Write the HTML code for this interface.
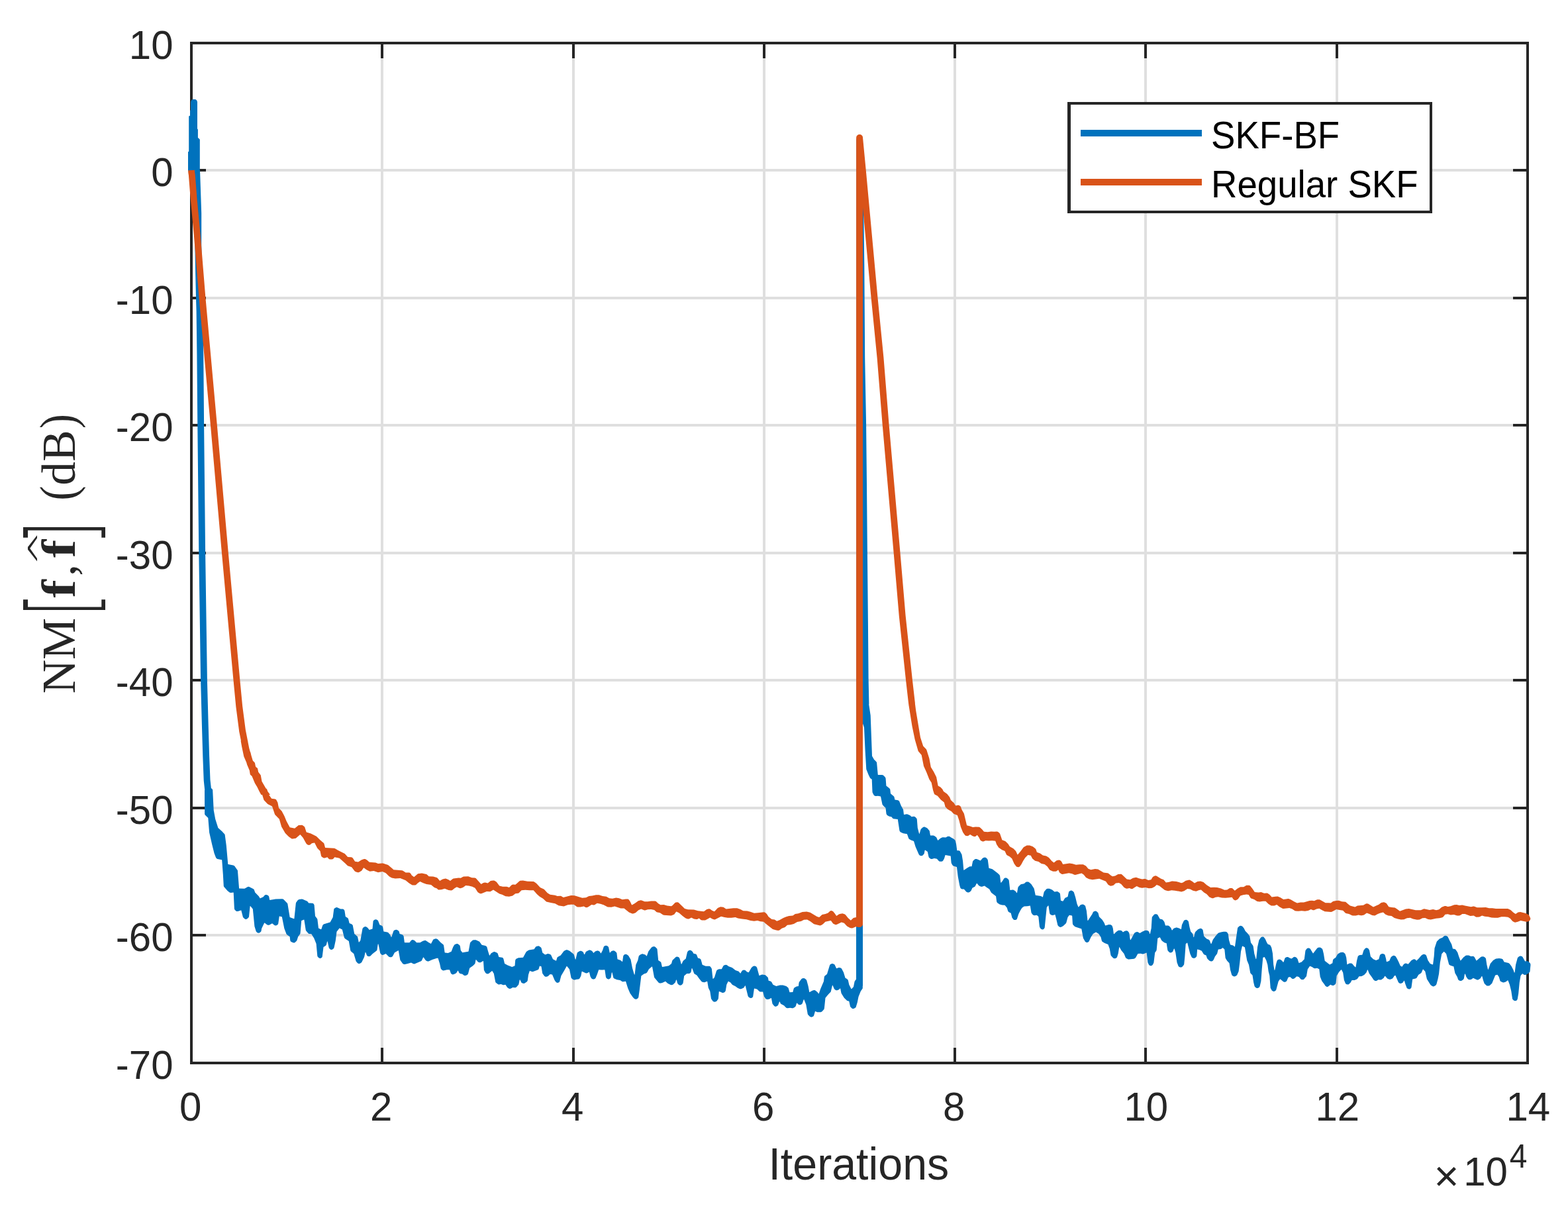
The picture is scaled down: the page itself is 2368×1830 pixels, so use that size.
<!DOCTYPE html>
<html lang="en"><head><meta charset="utf-8"><title>NM convergence: SKF-BF vs Regular SKF</title>
<style>
html,body{margin:0;padding:0;background:#fff;}
body{width:2368px;height:1830px;overflow:hidden;}
svg{display:block;}
text{font-family:"Liberation Sans",sans-serif;fill:#262626;}
.t{font-size:60px;}
.leg{font-size:54.4px;fill:#000;}
.xl{font-size:66px;}
.yl text{font-family:"Liberation Serif",serif;font-size:71px;}
.yl .bf{font-weight:bold;}
.yl .brk{font-family:"DejaVu Sans Light","DejaVu Sans",sans-serif;font-weight:200;font-size:139px;}
.yl .hat{font-family:"DejaVu Sans Light","DejaVu Sans",sans-serif;font-weight:200;font-size:51px;}
.yl .par{font-size:77px;}
</style></head><body>
<svg width="2368" height="1830" viewBox="0 0 2368 1830">
<rect width="2368" height="1830" fill="#fff"/>
<path d="M577.0 65.0V1605.0M866.0 65.0V1605.0M1154.0 65.0V1605.0M1442.0 65.0V1605.0M1730.0 65.0V1605.0M2019.0 65.0V1605.0M289.0 257.0H2307.0M289.0 450.0H2307.0M289.0 642.0H2307.0M289.0 835.0H2307.0M289.0 1027.0H2307.0M289.0 1220.0H2307.0M289.0 1412.0H2307.0" stroke="#dfdfdf" stroke-width="4.0" fill="none"/>
<path d="M577.0 65.0v23.0M577.0 1605.0v-23.0M866.0 65.0v23.0M866.0 1605.0v-23.0M1154.0 65.0v23.0M1154.0 1605.0v-23.0M1442.0 65.0v23.0M1442.0 1605.0v-23.0M1730.0 65.0v23.0M1730.0 1605.0v-23.0M2019.0 65.0v23.0M2019.0 1605.0v-23.0M289.0 257.0h22.0M2307.0 257.0h-22.0M289.0 450.0h22.0M2307.0 450.0h-22.0M289.0 642.0h22.0M2307.0 642.0h-22.0M289.0 835.0h22.0M2307.0 835.0h-22.0M289.0 1027.0h22.0M2307.0 1027.0h-22.0M289.0 1220.0h22.0M2307.0 1220.0h-22.0M289.0 1412.0h22.0M2307.0 1412.0h-22.0" stroke="#262626" stroke-width="4.0" fill="none"/>
<rect x="289.0" y="65.0" width="2018.0" height="1540.0" fill="none" stroke="#262626" stroke-width="4.0"/>
<g id="curves">
<path d="M284.0 257.0L284.0 257.0L284.0 257.0L293.0 290.0L293.0 290.0L293.0 290.0L293.3 290.0L294.3 322.1L294.3 367.0L294.3 367.1L295.3 419.1L295.3 419.1L296.0 450.1L296.0 450.1L296.6 470.1L297.4 534.1L298.3 642.0L298.3 642.1L300.3 835.1L300.3 835.1L303.1 1027.1L303.1 1027.1L304.9 1095.1L304.9 1095.1L306.3 1142.1L306.3 1142.2L307.7 1178.2L307.7 1178.5L309.2 1192.7L309.0 1193.2L309.1 1229.2L309.9 1230.8L314.3 1235.1L316.1 1256.9L320.2 1275.0L323.6 1288.6L326.1 1294.9L327.1 1296.3L328.4 1297.0L334.8 1298.3L335.2 1298.6L336.8 1320.0L337.8 1338.1L338.5 1339.3L343.3 1344.8L346.7 1347.5L348.6 1348.1L352.3 1347.6L352.7 1347.8L353.9 1371.9L354.4 1373.5L356.4 1375.5L357.3 1375.9L358.3 1376.1L359.3 1376.0L363.8 1374.4L364.3 1374.4L367.0 1384.9L369.6 1387.5L370.9 1387.9L371.9 1387.9L373.2 1387.3L374.9 1385.9L376.0 1384.2L377.6 1368.5L377.8 1368.1L378.3 1368.2L381.8 1372.6L384.4 1398.7L386.8 1406.5L388.5 1408.2L390.1 1408.8L392.0 1408.4L394.0 1406.7L394.5 1405.7L395.2 1401.7L399.2 1393.6L399.7 1393.6L403.3 1396.2L404.5 1396.7L406.5 1396.7L411.0 1394.3L414.9 1397.3L416.2 1397.6L417.5 1397.3L419.3 1396.3L420.2 1394.8L421.8 1383.6L422.2 1383.4L425.8 1384.2L429.3 1401.7L432.4 1410.1L433.3 1411.2L437.6 1414.2L438.3 1420.0L439.0 1421.5L440.1 1422.3L443.2 1423.5L444.5 1423.4L445.5 1422.9L448.1 1420.4L448.7 1419.1L450.2 1414.2L453.2 1410.3L453.6 1408.9L455.2 1390.2L455.5 1389.9L459.2 1388.5L459.4 1388.9L461.7 1404.0L462.1 1405.2L465.7 1409.4L467.0 1409.9L470.3 1410.2L474.3 1416.7L477.6 1424.9L479.3 1443.2L479.6 1444.2L480.2 1445.1L481.5 1446.3L482.5 1446.7L483.8 1446.9L485.1 1446.5L486.2 1445.6L486.7 1444.7L488.5 1430.1L491.7 1428.1L492.4 1427.3L492.9 1426.4L494.1 1421.5L494.4 1421.5L494.7 1421.8L496.7 1431.1L497.9 1432.8L499.2 1433.7L500.9 1433.9L502.5 1433.3L504.0 1431.9L504.6 1430.5L506.8 1420.2L508.5 1406.7L512.4 1401.7L512.8 1401.4L516.8 1403.4L519.8 1415.3L520.4 1416.5L521.4 1417.4L526.8 1420.9L529.3 1435.2L530.1 1436.4L534.3 1440.0L537.7 1451.5L540.0 1454.2L541.5 1455.0L542.5 1455.1L543.8 1454.8L545.6 1453.6L546.2 1452.9L550.1 1445.1L551.7 1437.8L552.3 1437.9L553.9 1442.2L554.5 1443.1L555.7 1443.9L557.4 1444.1L558.4 1443.9L559.3 1443.4L562.8 1439.9L568.4 1435.7L569.1 1434.9L569.5 1433.9L570.7 1425.7L571.0 1425.3L571.5 1425.7L574.2 1439.0L575.1 1440.6L576.9 1441.7L577.9 1441.9L578.9 1441.8L582.7 1440.1L587.4 1444.7L589.3 1445.3L591.0 1445.3L592.2 1444.6L592.9 1443.9L596.0 1438.3L601.3 1435.3L601.8 1435.3L604.4 1449.8L608.2 1454.9L609.1 1455.5L610.0 1455.9L611.4 1455.9L615.8 1455.0L620.9 1453.4L624.2 1455.2L625.5 1455.4L626.5 1455.2L636.4 1450.9L637.2 1449.8L639.0 1445.8L639.3 1445.4L639.7 1445.6L642.8 1450.0L644.8 1451.2L646.0 1451.6L647.3 1451.4L652.7 1449.1L659.8 1446.7L661.5 1446.7L664.1 1454.9L665.7 1462.4L666.4 1463.6L668.1 1465.0L669.8 1465.5L675.0 1464.2L679.0 1464.2L680.9 1469.6L682.0 1470.7L683.7 1471.4L685.6 1471.1L688.7 1469.4L689.4 1468.7L691.3 1465.7L691.6 1465.5L691.9 1465.7L693.3 1468.8L694.6 1470.0L698.3 1470.8L700.3 1472.5L701.6 1473.1L703.3 1473.0L705.6 1472.0L706.5 1471.1L707.0 1470.2L709.2 1461.7L714.2 1458.3L717.0 1455.5L717.6 1454.3L718.5 1449.2L719.0 1448.9L721.5 1452.1L722.4 1452.7L723.8 1453.2L725.8 1453.2L729.5 1451.1L730.0 1451.3L730.9 1464.8L732.9 1468.6L734.1 1469.8L736.0 1470.4L738.1 1470.0L743.0 1466.1L743.5 1466.2L745.8 1470.0L748.2 1482.4L748.6 1483.4L749.3 1484.1L751.5 1485.8L752.7 1486.4L753.8 1486.4L756.6 1485.9L759.8 1487.2L760.9 1487.3L763.3 1486.8L766.2 1491.0L768.3 1492.5L770.0 1492.9L771.7 1492.5L774.2 1490.9L778.1 1491.2L779.0 1490.9L780.1 1490.2L783.3 1486.4L784.7 1479.7L785.0 1479.3L785.5 1479.5L787.4 1483.5L788.2 1484.2L789.1 1484.6L790.7 1485.0L792.1 1484.8L795.5 1482.5L796.2 1481.8L796.8 1480.5L798.0 1471.7L799.9 1466.1L800.4 1466.0L803.2 1467.1L804.5 1467.2L811.9 1464.6L813.0 1463.9L813.6 1463.0L814.9 1458.7L815.2 1458.5L817.5 1459.3L819.2 1469.8L822.1 1473.7L823.6 1474.7L825.3 1474.8L827.6 1474.0L830.8 1470.9L834.0 1471.6L837.7 1480.3L839.7 1483.0L840.6 1483.6L841.9 1483.9L843.6 1483.6L844.5 1483.0L845.1 1482.2L847.5 1473.3L852.4 1465.1L855.8 1458.7L856.3 1458.9L860.0 1463.4L862.6 1476.4L863.2 1477.2L865.5 1479.0L867.1 1479.6L868.1 1479.5L870.8 1478.7L873.7 1478.4L875.3 1477.4L877.4 1473.5L878.6 1467.1L879.0 1466.8L884.4 1469.3L885.5 1469.5L886.8 1469.3L889.6 1467.8L889.9 1467.8L891.5 1474.3L892.1 1475.6L893.4 1477.5L894.2 1478.1L895.4 1478.6L897.1 1478.5L898.6 1477.7L899.5 1476.7L901.7 1471.5L904.2 1464.3L909.2 1464.6L913.1 1464.2L913.4 1464.6L915.0 1475.5L916.2 1477.3L917.3 1478.1L918.6 1478.5L919.7 1478.4L920.9 1477.8L922.1 1476.8L922.7 1475.6L923.8 1468.6L924.3 1468.3L924.6 1468.7L926.3 1475.9L926.8 1476.9L927.6 1477.6L931.7 1479.2L936.6 1480.0L939.1 1481.8L940.1 1482.2L941.1 1482.3L944.7 1481.7L945.0 1481.8L948.3 1492.3L951.7 1500.0L956.0 1506.0L958.3 1508.2L960.2 1508.8L961.6 1508.6L962.4 1508.0L963.8 1506.8L964.3 1505.6L965.8 1495.0L968.4 1473.4L972.5 1470.4L975.6 1469.4L976.5 1468.9L977.4 1467.9L980.0 1463.3L984.5 1459.6L984.9 1459.6L985.1 1459.9L988.0 1475.5L988.6 1476.6L994.7 1483.7L996.2 1484.5L997.9 1484.6L1000.1 1484.1L1005.0 1481.8L1008.6 1485.1L1012.8 1487.0L1014.0 1487.2L1015.3 1487.1L1016.6 1486.5L1019.2 1483.9L1020.0 1482.9L1021.1 1479.6L1021.4 1479.4L1021.8 1479.6L1023.1 1484.7L1024.9 1486.7L1026.0 1487.5L1027.3 1487.7L1028.7 1487.5L1029.6 1486.9L1031.1 1485.3L1031.6 1484.2L1033.2 1473.4L1037.3 1470.0L1040.9 1469.9L1041.9 1469.6L1042.7 1469.0L1043.6 1467.5L1044.6 1462.3L1045.0 1462.0L1045.4 1462.3L1048.2 1469.7L1048.9 1470.4L1052.3 1472.5L1055.8 1477.6L1059.5 1482.0L1060.7 1482.7L1063.6 1483.2L1064.6 1483.1L1067.7 1481.8L1068.2 1482.0L1069.8 1491.5L1072.3 1496.7L1074.0 1508.1L1076.4 1511.4L1077.8 1512.5L1079.7 1512.7L1081.9 1511.9L1082.8 1511.0L1084.6 1508.6L1084.9 1507.3L1085.8 1496.9L1086.1 1496.9L1088.9 1498.0L1090.6 1498.9L1091.9 1499.1L1093.8 1498.5L1095.3 1496.9L1095.9 1495.6L1097.3 1486.7L1099.6 1482.1L1100.1 1481.8L1103.2 1483.4L1105.4 1486.3L1106.1 1486.9L1110.7 1489.2L1114.0 1491.7L1117.5 1493.2L1119.3 1493.2L1122.6 1491.8L1123.6 1490.9L1125.2 1488.3L1125.7 1488.2L1129.6 1504.1L1130.6 1505.5L1132.6 1506.8L1133.9 1507.0L1135.3 1506.7L1136.4 1505.9L1137.2 1504.7L1138.9 1493.0L1139.2 1492.6L1143.2 1493.4L1146.6 1496.7L1147.4 1497.2L1148.4 1497.5L1152.2 1497.5L1154.0 1504.8L1156.6 1508.2L1158.2 1508.9L1160.8 1508.8L1161.8 1508.5L1164.4 1506.9L1164.9 1507.1L1166.5 1515.6L1169.0 1518.8L1170.5 1519.7L1171.6 1519.8L1172.6 1519.6L1174.6 1518.3L1175.3 1517.2L1177.0 1512.6L1177.4 1512.4L1177.7 1512.6L1178.7 1514.9L1179.3 1515.8L1184.0 1518.3L1187.1 1521.5L1188.0 1522.0L1189.6 1522.2L1193.2 1521.7L1196.3 1522.3L1197.6 1522.2L1200.3 1520.7L1201.3 1519.8L1201.8 1519.0L1203.2 1514.6L1203.6 1514.6L1205.9 1516.8L1207.1 1517.3L1208.8 1517.3L1210.7 1516.3L1211.8 1514.9L1213.7 1509.3L1214.2 1509.1L1217.3 1516.7L1219.8 1531.3L1220.4 1532.2L1223.1 1535.0L1224.3 1535.6L1225.3 1535.8L1227.2 1535.3L1228.3 1534.5L1229.0 1533.7L1231.0 1526.9L1231.4 1526.9L1234.2 1528.3L1239.7 1528.3L1241.5 1527.3L1244.4 1523.9L1244.9 1522.3L1246.5 1506.7L1250.6 1501.7L1254.7 1497.4L1257.0 1487.7L1257.5 1487.8L1259.8 1493.1L1260.6 1493.9L1262.5 1495.2L1264.3 1495.3L1266.3 1494.6L1267.5 1493.8L1268.5 1492.4L1269.1 1492.4L1270.5 1499.4L1271.0 1500.5L1274.9 1506.7L1278.3 1510.1L1279.3 1510.9L1282.3 1511.8L1284.1 1519.9L1286.0 1522.1L1286.8 1522.7L1287.9 1523.0L1289.3 1522.9L1291.1 1522.1L1291.9 1521.5L1292.6 1520.7L1294.8 1513.5L1296.5 1504.9L1299.8 1496.7L1302.7 1492.4L1302.8 1491.4L1302.8 1489.1L1302.9 1489.0L1302.9 1488.5L1303.0 1488.0L1303.0 1092.6L1303.0 1092.6L1305.0 1098.4L1306.7 1135.0L1308.3 1161.5L1311.6 1169.8L1313.8 1174.2L1314.6 1175.3L1316.7 1176.8L1317.5 1195.8L1317.8 1197.1L1319.8 1200.7L1321.2 1201.8L1322.9 1202.1L1325.9 1201.7L1330.0 1202.6L1332.5 1214.6L1333.2 1215.7L1337.5 1220.1L1338.5 1228.4L1339.1 1229.9L1340.0 1230.9L1342.5 1232.4L1346.6 1233.4L1347.8 1235.3L1349.2 1236.3L1355.8 1237.1L1358.4 1254.0L1358.9 1255.3L1360.1 1256.5L1364.0 1258.2L1369.9 1259.2L1372.1 1265.4L1372.8 1266.7L1375.8 1268.6L1380.0 1270.1L1382.6 1278.5L1387.6 1290.0L1388.6 1291.3L1389.8 1291.9L1391.3 1292.2L1392.7 1291.9L1393.8 1291.2L1395.7 1288.9L1396.6 1283.9L1397.1 1283.6L1400.8 1285.9L1402.5 1293.8L1403.0 1294.7L1404.6 1296.2L1405.5 1296.7L1406.5 1297.0L1407.5 1296.9L1410.9 1295.9L1414.9 1296.7L1417.8 1300.0L1419.0 1300.7L1420.0 1300.8L1422.4 1300.7L1423.4 1300.2L1424.2 1299.4L1425.9 1296.5L1427.6 1291.0L1435.7 1292.5L1436.6 1302.5L1437.1 1304.0L1438.6 1306.6L1439.6 1307.5L1444.8 1309.1L1445.0 1309.4L1446.7 1323.4L1449.2 1336.8L1450.2 1340.3L1451.0 1341.4L1451.8 1342.1L1452.8 1342.4L1455.8 1342.6L1459.3 1346.5L1461.4 1347.4L1462.7 1347.5L1464.3 1347.1L1466.5 1345.1L1468.4 1340.8L1471.7 1339.1L1472.5 1338.4L1475.0 1333.7L1475.4 1333.8L1478.3 1337.3L1481.5 1338.8L1483.2 1338.8L1486.8 1337.6L1490.2 1340.1L1494.1 1342.5L1497.0 1347.7L1504.1 1353.3L1505.2 1361.4L1505.6 1362.3L1506.3 1363.2L1509.7 1365.5L1513.2 1366.6L1517.3 1366.7L1517.7 1366.9L1520.8 1370.8L1522.1 1375.2L1522.7 1376.3L1523.6 1377.2L1526.7 1378.7L1528.4 1385.6L1530.4 1388.2L1531.5 1388.9L1532.9 1389.1L1533.9 1389.0L1535.0 1388.4L1535.9 1387.5L1538.3 1380.0L1540.8 1375.1L1543.4 1370.8L1546.7 1368.4L1551.7 1368.3L1555.6 1367.6L1555.9 1368.0L1557.4 1377.4L1557.7 1378.4L1559.5 1380.9L1560.6 1381.8L1562.2 1382.2L1565.8 1381.7L1568.3 1384.1L1569.9 1399.1L1570.2 1400.1L1571.6 1402.2L1572.7 1403.1L1574.3 1403.4L1575.6 1403.2L1577.0 1402.1L1577.7 1400.6L1580.8 1370.1L1582.8 1367.4L1583.2 1367.3L1583.5 1367.7L1585.1 1378.4L1585.5 1379.7L1586.6 1380.9L1588.9 1382.0L1590.2 1382.0L1593.0 1381.0L1593.4 1381.1L1595.0 1386.7L1597.3 1396.7L1598.1 1398.0L1599.9 1399.5L1601.6 1400.0L1603.2 1399.6L1605.8 1398.0L1609.5 1394.6L1610.3 1393.2L1612.5 1385.0L1614.9 1381.8L1618.9 1382.5L1619.2 1382.9L1619.9 1394.5L1620.3 1395.9L1620.9 1396.8L1623.5 1399.2L1633.3 1402.6L1635.9 1416.6L1638.8 1421.7L1639.9 1422.6L1640.8 1423.0L1641.9 1423.1L1642.9 1422.8L1644.1 1422.1L1644.8 1421.0L1647.5 1415.0L1650.8 1410.0L1655.1 1407.6L1659.3 1410.1L1662.5 1415.0L1663.9 1420.6L1664.6 1421.8L1668.3 1424.1L1673.4 1425.9L1675.8 1432.5L1677.5 1442.3L1678.1 1443.2L1681.1 1446.6L1682.7 1447.2L1684.9 1446.9L1686.1 1446.3L1687.0 1445.2L1688.7 1439.8L1690.2 1430.3L1690.6 1430.1L1693.4 1435.0L1697.5 1440.0L1700.0 1446.2L1701.0 1447.1L1703.8 1448.4L1704.9 1448.5L1712.4 1447.7L1713.9 1447.1L1715.1 1446.0L1718.4 1440.0L1722.5 1439.7L1725.7 1440.5L1726.6 1440.6L1731.5 1438.6L1731.7 1439.0L1733.4 1453.3L1735.2 1456.9L1736.2 1457.8L1737.5 1458.2L1738.8 1458.2L1740.3 1457.3L1741.0 1456.6L1742.4 1453.5L1744.2 1438.4L1746.3 1435.5L1746.7 1434.3L1748.3 1416.8L1751.4 1415.2L1751.8 1415.3L1754.0 1419.6L1754.8 1420.5L1758.4 1423.3L1761.7 1424.3L1763.3 1434.4L1763.7 1435.4L1765.5 1437.6L1766.7 1438.3L1767.7 1438.5L1768.8 1438.3L1770.1 1437.7L1771.3 1436.5L1772.9 1432.6L1773.3 1432.4L1773.6 1432.6L1775.3 1438.3L1777.5 1453.3L1779.6 1458.8L1780.9 1460.0L1782.4 1460.5L1784.0 1460.4L1785.2 1459.9L1787.6 1457.3L1788.2 1456.1L1789.3 1444.9L1790.7 1425.2L1792.8 1423.6L1793.1 1423.6L1793.3 1424.0L1797.3 1440.0L1799.4 1444.8L1800.3 1445.9L1802.2 1446.8L1803.9 1446.8L1805.4 1446.1L1806.9 1444.5L1807.4 1442.9L1808.1 1433.8L1808.3 1433.5L1808.7 1433.5L1811.5 1434.2L1814.8 1435.8L1817.7 1440.6L1818.4 1441.2L1821.5 1442.6L1822.9 1446.7L1823.5 1447.8L1826.3 1450.6L1828.6 1451.6L1829.6 1451.6L1830.6 1451.3L1831.5 1450.8L1832.2 1449.9L1833.2 1448.3L1834.9 1444.2L1838.1 1440.0L1839.8 1433.5L1843.9 1433.1L1846.6 1431.0L1849.3 1433.4L1850.6 1445.9L1850.9 1447.0L1853.2 1450.8L1856.5 1454.2L1858.1 1464.8L1860.1 1471.7L1860.7 1472.7L1862.0 1473.8L1863.9 1474.5L1865.8 1474.1L1868.1 1472.4L1870.6 1466.8L1872.3 1453.4L1874.0 1436.8L1875.9 1428.9L1876.1 1428.6L1876.4 1428.5L1879.9 1430.2L1883.2 1450.0L1886.0 1456.7L1888.2 1468.8L1888.7 1469.7L1891.5 1472.6L1893.2 1483.5L1894.5 1488.8L1895.1 1490.0L1897.2 1491.7L1898.9 1492.0L1900.0 1491.8L1901.5 1491.0L1902.6 1489.3L1904.4 1481.4L1905.7 1463.4L1907.3 1446.1L1907.5 1445.8L1909.7 1445.1L1912.3 1450.0L1914.3 1456.7L1915.6 1466.5L1917.3 1473.3L1918.7 1491.7L1920.7 1495.6L1922.1 1496.5L1923.4 1496.9L1924.5 1496.8L1925.4 1496.4L1926.6 1495.6L1927.2 1494.7L1930.7 1481.7L1933.1 1478.5L1933.6 1478.6L1938.5 1482.4L1939.7 1482.8L1940.7 1482.8L1942.1 1482.3L1943.3 1481.1L1945.5 1475.8L1948.2 1475.1L1951.0 1477.6L1952.0 1477.9L1953.1 1477.9L1955.0 1477.2L1958.3 1474.2L1961.5 1475.0L1964.0 1478.1L1965.2 1478.9L1966.2 1479.1L1967.7 1479.2L1969.3 1478.6L1973.0 1474.1L1974.8 1463.4L1977.9 1459.0L1978.3 1458.8L1981.5 1460.0L1984.4 1462.0L1986.0 1462.2L1989.0 1461.7L1992.3 1463.3L1993.7 1474.8L1996.3 1481.2L1999.7 1485.7L2001.7 1488.8L2002.8 1489.6L2003.9 1489.9L2004.9 1489.9L2005.9 1489.5L2009.3 1486.8L2011.9 1488.0L2013.3 1488.1L2014.6 1487.7L2016.7 1486.1L2017.5 1484.2L2018.7 1473.3L2022.3 1467.5L2025.6 1464.0L2026.0 1464.3L2028.2 1468.4L2029.9 1480.1L2032.0 1484.9L2033.0 1485.9L2033.9 1486.3L2035.8 1486.5L2036.8 1486.2L2037.7 1485.6L2039.7 1483.4L2041.6 1480.1L2045.7 1479.9L2048.7 1478.8L2050.3 1477.6L2052.4 1474.2L2056.5 1474.0L2060.5 1471.7L2063.6 1468.3L2065.0 1464.4L2065.4 1464.2L2065.7 1464.4L2067.8 1470.1L2071.5 1474.9L2074.5 1479.5L2076.2 1480.7L2077.2 1481.0L2078.6 1481.0L2079.6 1480.6L2081.5 1479.2L2084.6 1479.5L2086.2 1479.2L2089.6 1476.7L2091.2 1473.9L2091.5 1473.7L2091.9 1473.8L2095.1 1477.5L2098.0 1478.8L2100.0 1478.8L2102.9 1477.5L2103.6 1476.8L2105.7 1473.4L2107.2 1472.7L2107.5 1473.0L2111.7 1482.8L2112.6 1483.9L2114.4 1484.9L2116.5 1484.8L2118.7 1483.5L2120.3 1480.8L2120.8 1480.8L2122.7 1486.8L2124.6 1491.8L2126.1 1493.1L2127.9 1493.6L2129.0 1493.4L2129.9 1492.9L2130.8 1492.1L2131.5 1490.9L2133.2 1478.4L2137.8 1477.5L2139.3 1476.7L2142.3 1471.7L2145.8 1469.5L2146.6 1468.8L2148.8 1463.8L2149.2 1463.6L2152.3 1466.7L2154.9 1478.3L2160.2 1486.7L2161.1 1487.8L2163.3 1489.1L2164.3 1489.4L2165.7 1489.3L2168.3 1487.8L2169.4 1486.1L2171.5 1478.2L2173.1 1470.2L2174.8 1453.4L2177.3 1440.2L2180.7 1436.8L2184.0 1440.1L2188.2 1456.0L2189.0 1457.0L2191.1 1458.1L2195.3 1459.3L2197.4 1469.3L2200.7 1475.0L2202.1 1479.1L2203.2 1480.3L2205.2 1481.1L2206.6 1481.1L2207.8 1480.6L2209.9 1478.9L2210.8 1477.4L2212.0 1470.8L2212.4 1470.4L2212.8 1470.6L2214.4 1475.1L2216.3 1477.7L2217.5 1478.8L2218.8 1479.2L2221.6 1478.9L2224.9 1476.7L2230.1 1479.3L2231.1 1479.5L2232.2 1479.4L2235.5 1477.5L2237.7 1474.1L2238.1 1474.0L2238.4 1474.2L2239.9 1480.1L2241.7 1485.1L2244.8 1488.0L2245.8 1488.4L2248.2 1488.5L2249.8 1487.9L2253.2 1484.8L2258.2 1472.6L2261.4 1471.7L2263.7 1475.0L2265.5 1480.9L2266.2 1481.7L2267.1 1482.3L2269.3 1483.3L2270.8 1483.4L2274.0 1482.4L2276.9 1480.3L2277.5 1480.4L2279.9 1486.8L2282.3 1496.6L2284.0 1507.9L2284.5 1508.9L2286.1 1510.5L2287.0 1511.0L2288.4 1511.2L2289.7 1510.9L2290.7 1510.2L2291.3 1509.5L2291.8 1508.2L2293.2 1499.9L2294.8 1483.3L2296.5 1473.3L2298.9 1470.2L2299.3 1470.2L2301.7 1471.8L2302.8 1472.0L2303.8 1471.9L2306.9 1470.5L2309.7 1468.2L2310.5 1467.0L2311.5 1456.8L2311.1 1454.8L2308.7 1452.2L2307.5 1451.4L2306.2 1451.1L2303.1 1451.5L2299.5 1445.0L2298.4 1444.0L2296.8 1443.5L2295.7 1443.5L2294.4 1444.0L2292.7 1445.3L2291.8 1446.6L2289.1 1456.4L2287.6 1468.2L2287.2 1468.6L2286.8 1468.4L2285.6 1464.8L2282.5 1458.7L2279.6 1454.9L2278.1 1454.0L2271.6 1452.5L2269.5 1448.6L2268.7 1447.9L2267.4 1447.4L2264.0 1447.0L2259.4 1447.5L2258.3 1447.9L2255.0 1449.9L2250.7 1455.0L2247.8 1463.6L2247.4 1463.9L2247.0 1463.6L2245.4 1456.8L2244.0 1447.4L2243.1 1446.0L2240.9 1444.5L2239.3 1444.3L2237.2 1444.6L2236.3 1445.0L2229.9 1450.6L2229.6 1450.4L2226.8 1445.2L2225.5 1444.1L2223.9 1443.7L2221.5 1444.1L2218.0 1442.6L2214.6 1442.6L2213.3 1443.1L2210.1 1445.6L2206.1 1450.3L2205.6 1450.4L2203.2 1444.2L2201.2 1437.9L2198.3 1433.8L2197.1 1433.1L2194.0 1432.4L2192.2 1425.7L2189.1 1420.1L2186.8 1415.0L2185.7 1413.8L2184.2 1413.0L2183.1 1412.7L2181.4 1413.1L2178.2 1415.8L2174.0 1417.6L2170.4 1421.1L2169.7 1422.1L2166.5 1431.8L2165.7 1443.4L2164.1 1456.1L2163.7 1456.5L2159.8 1454.9L2156.5 1450.0L2154.1 1442.9L2153.4 1442.1L2152.3 1441.2L2150.6 1440.7L2149.0 1441.0L2146.4 1442.7L2142.4 1447.4L2139.3 1450.5L2138.9 1450.4L2138.0 1449.3L2136.8 1448.5L2135.8 1448.3L2134.4 1448.6L2131.3 1450.3L2128.2 1454.1L2126.6 1455.7L2123.3 1454.6L2121.9 1454.8L2120.5 1455.5L2119.5 1456.4L2117.3 1459.8L2114.8 1458.3L2112.3 1452.4L2109.8 1447.4L2107.7 1444.0L2106.9 1443.4L2105.9 1443.0L2104.6 1442.8L2103.6 1443.0L2101.4 1444.4L2100.5 1445.5L2098.2 1450.8L2094.3 1452.3L2093.9 1452.0L2093.1 1447.4L2091.6 1441.9L2091.0 1441.1L2089.9 1440.4L2088.4 1440.0L2087.0 1440.0L2085.0 1441.1L2084.0 1442.1L2082.3 1448.3L2078.1 1449.9L2074.0 1448.3L2069.9 1444.2L2068.0 1434.7L2066.2 1432.1L2065.0 1431.4L2064.0 1431.2L2063.0 1431.3L2061.8 1431.9L2059.5 1434.8L2057.3 1441.8L2053.7 1441.9L2051.9 1442.8L2050.7 1444.0L2049.0 1450.7L2047.5 1460.0L2047.2 1460.4L2046.8 1460.3L2044.9 1458.4L2042.5 1455.4L2041.0 1454.5L2039.9 1454.4L2037.8 1454.6L2036.9 1455.0L2034.8 1456.3L2034.4 1456.2L2033.2 1445.8L2031.7 1440.8L2031.0 1439.7L2029.3 1438.3L2027.4 1437.7L2023.9 1438.2L2020.0 1440.8L2017.3 1445.8L2014.3 1447.7L2013.4 1448.7L2013.0 1449.6L2012.3 1454.2L2008.1 1456.6L2000.7 1450.8L1999.0 1440.2L1997.5 1433.9L1996.9 1432.7L1995.1 1431.3L1994.2 1430.7L1992.9 1430.5L1990.6 1430.8L1989.2 1431.7L1986.6 1434.9L1983.2 1439.6L1982.9 1439.5L1979.0 1433.1L1978.1 1432.1L1976.3 1431.4L1975.3 1431.5L1974.0 1432.1L1971.9 1434.5L1971.4 1435.7L1969.8 1448.3L1965.7 1452.5L1961.9 1454.0L1961.4 1453.8L1959.6 1448.1L1957.8 1445.7L1956.2 1444.9L1954.8 1444.8L1953.8 1445.1L1950.6 1447.4L1948.2 1446.7L1945.1 1445.0L1943.7 1445.0L1942.1 1445.4L1941.2 1445.9L1940.4 1447.0L1938.5 1452.5L1938.1 1452.8L1937.7 1452.7L1936.3 1450.7L1933.9 1448.9L1932.3 1448.6L1930.1 1449.1L1929.0 1450.0L1928.4 1451.2L1927.3 1455.1L1925.3 1464.5L1924.9 1464.9L1924.5 1464.5L1923.2 1456.6L1922.0 1439.8L1920.3 1431.0L1918.6 1427.4L1917.3 1426.4L1914.8 1425.7L1913.2 1423.3L1910.9 1417.9L1908.7 1415.1L1907.8 1414.6L1906.5 1414.4L1905.2 1414.7L1904.1 1415.4L1901.4 1419.5L1899.1 1429.8L1897.2 1447.7L1897.0 1448.1L1896.6 1448.1L1894.3 1439.9L1892.7 1428.9L1892.1 1427.6L1889.0 1423.3L1887.3 1413.5L1884.1 1409.3L1880.7 1405.8L1878.4 1401.3L1876.3 1398.8L1874.7 1397.9L1873.1 1397.8L1871.9 1398.2L1869.6 1400.2L1869.0 1401.4L1865.0 1429.1L1864.6 1429.6L1862.3 1427.6L1858.1 1426.5L1856.0 1419.2L1854.8 1410.2L1853.2 1407.8L1852.0 1407.0L1850.9 1406.7L1847.8 1406.7L1843.9 1407.5L1840.5 1408.5L1839.6 1409.0L1835.8 1413.2L1831.8 1418.8L1829.4 1424.9L1828.9 1425.1L1828.6 1424.8L1826.9 1420.3L1826.3 1419.4L1825.4 1418.7L1822.3 1417.5L1818.2 1413.4L1816.6 1404.3L1815.7 1402.9L1814.2 1402.0L1813.1 1401.8L1812.1 1401.9L1809.2 1403.3L1805.3 1407.0L1804.6 1408.5L1803.1 1414.8L1802.8 1415.1L1802.4 1415.0L1801.3 1410.1L1798.2 1406.6L1796.5 1400.1L1794.9 1391.6L1794.2 1390.4L1792.8 1389.3L1791.4 1388.8L1790.0 1388.9L1788.6 1389.6L1787.7 1390.6L1784.9 1396.5L1783.9 1403.0L1783.5 1403.1L1780.5 1401.6L1777.4 1400.6L1776.3 1400.5L1772.6 1401.8L1770.4 1404.5L1770.0 1404.6L1769.8 1404.4L1768.3 1400.9L1765.5 1398.1L1763.9 1397.5L1760.0 1397.4L1758.4 1392.0L1756.6 1389.4L1755.2 1388.3L1751.7 1387.4L1748.4 1381.6L1747.4 1380.6L1746.0 1380.2L1744.2 1380.3L1742.9 1381.0L1740.3 1384.1L1739.7 1385.4L1738.7 1401.5L1736.8 1410.2L1736.3 1410.1L1735.5 1407.3L1735.0 1406.4L1734.0 1405.5L1732.7 1405.0L1730.6 1404.8L1729.1 1405.0L1725.0 1406.7L1721.4 1409.1L1718.4 1407.3L1717.1 1407.1L1716.1 1407.2L1714.2 1408.0L1713.1 1408.9L1707.6 1418.9L1707.2 1419.2L1706.8 1418.8L1705.3 1408.7L1703.8 1406.6L1702.5 1405.6L1701.2 1405.3L1698.7 1405.8L1695.9 1407.4L1694.1 1405.6L1693.0 1404.9L1692.1 1404.7L1689.6 1404.7L1688.6 1405.1L1685.4 1407.3L1682.6 1410.2L1682.1 1410.3L1681.9 1409.9L1680.8 1401.7L1679.7 1398.2L1679.2 1397.4L1677.5 1396.2L1674.5 1395.9L1669.5 1397.4L1669.1 1397.3L1667.5 1393.3L1664.4 1388.6L1660.0 1384.2L1658.5 1378.4L1656.6 1376.5L1655.7 1375.9L1654.4 1375.6L1653.3 1375.7L1652.0 1376.2L1651.0 1377.0L1650.4 1377.9L1649.6 1380.1L1643.2 1389.8L1642.9 1390.1L1642.5 1390.0L1640.9 1375.2L1639.1 1368.0L1638.2 1366.9L1636.3 1365.8L1634.3 1365.5L1631.5 1366.6L1629.0 1369.5L1628.5 1369.5L1626.6 1364.9L1624.2 1355.1L1621.9 1347.4L1621.0 1346.2L1619.3 1345.0L1617.9 1344.6L1616.8 1344.8L1615.3 1345.4L1614.5 1346.1L1613.9 1347.4L1612.5 1354.1L1609.1 1355.5L1608.3 1356.1L1605.5 1360.6L1605.0 1360.7L1602.0 1359.8L1601.0 1349.7L1600.6 1348.7L1599.9 1347.9L1597.8 1346.5L1596.6 1346.1L1592.5 1346.6L1589.0 1343.6L1584.8 1341.7L1582.1 1341.7L1580.8 1342.1L1580.0 1342.7L1577.2 1346.0L1576.6 1347.2L1574.9 1354.4L1574.5 1354.4L1572.0 1353.0L1563.8 1351.7L1561.8 1342.3L1561.3 1341.1L1557.4 1334.9L1553.9 1331.9L1552.9 1331.5L1551.9 1331.5L1550.1 1331.6L1549.1 1332.0L1546.6 1334.2L1541.7 1335.2L1538.3 1338.4L1537.4 1339.9L1536.0 1348.0L1535.5 1348.3L1533.8 1345.7L1530.8 1343.8L1529.4 1343.5L1525.7 1344.1L1525.4 1343.9L1523.7 1329.3L1522.9 1327.7L1520.8 1325.9L1519.9 1325.5L1518.9 1325.4L1517.7 1325.6L1516.8 1326.1L1516.1 1326.8L1514.1 1330.1L1511.9 1332.7L1511.3 1332.6L1510.1 1322.6L1509.4 1321.1L1506.5 1318.2L1498.6 1312.2L1493.4 1310.7L1491.8 1298.4L1491.0 1296.9L1489.3 1295.2L1487.4 1294.6L1484.7 1295.2L1483.7 1296.0L1480.8 1299.6L1475.0 1297.0L1473.6 1296.9L1472.3 1297.3L1469.8 1299.4L1469.1 1300.5L1467.5 1308.2L1464.8 1308.3L1463.6 1308.7L1459.9 1310.9L1455.9 1313.8L1455.5 1313.8L1455.3 1313.4L1454.1 1299.9L1452.5 1290.3L1449.6 1285.1L1448.1 1284.3L1445.6 1284.2L1445.3 1283.9L1444.1 1274.8L1442.7 1269.2L1441.7 1267.8L1438.3 1265.4L1436.7 1264.7L1434.1 1263.0L1432.5 1262.7L1430.9 1263.0L1428.3 1264.6L1424.0 1264.3L1422.7 1264.5L1419.9 1266.0L1416.7 1268.8L1416.3 1268.9L1414.1 1264.3L1411.0 1262.0L1409.5 1261.4L1405.0 1261.5L1403.8 1254.8L1403.2 1253.7L1400.1 1250.2L1396.3 1248.6L1395.3 1248.6L1394.0 1249.0L1391.1 1251.5L1390.5 1252.6L1388.7 1258.6L1388.5 1258.9L1388.1 1258.8L1385.8 1250.0L1384.8 1237.3L1384.3 1235.7L1382.1 1233.6L1381.2 1233.1L1379.5 1232.8L1376.7 1233.3L1374.1 1230.9L1370.6 1229.4L1369.3 1229.3L1365.4 1229.9L1365.0 1229.8L1364.1 1222.5L1360.8 1216.5L1358.0 1209.6L1357.3 1208.9L1356.1 1208.2L1351.4 1207.4L1350.5 1203.4L1350.0 1202.5L1345.0 1198.3L1344.3 1192.1L1343.8 1190.9L1342.9 1189.9L1338.4 1186.6L1337.6 1175.5L1337.0 1173.8L1334.4 1171.0L1333.2 1170.3L1331.9 1170.0L1326.2 1170.0L1325.8 1169.7L1324.1 1151.4L1323.5 1150.2L1320.0 1146.7L1317.0 1141.6L1314.7 1080.2L1312.2 1063.6L1312.3 1063.3L1312.4 1062.9L1312.4 1062.4L1312.4 1061.9L1311.6 1024.9L1310.9 940.0L1310.9 940.0L1309.7 813.0L1309.0 730.0L1309.0 729.9L1308.1 641.9L1308.1 641.9L1306.2 539.9L1305.3 400.0L1305.3 399.9L1302.9 211.9L1302.9 211.5L1302.8 211.0L1302.7 210.5L1302.6 210.1L1302.3 209.6L1302.1 209.2L1301.8 208.8L1301.5 208.5L1301.1 208.1L1300.7 207.9L1300.3 207.6L1299.9 207.4L1299.4 207.3L1298.9 207.1L1298.5 207.1L1298.0 207.1L1297.5 207.1L1297.0 207.2L1296.5 207.3L1296.1 207.4L1295.6 207.6L1295.2 207.9L1294.8 208.2L1294.5 208.5L1294.2 208.9L1293.9 209.3L1293.6 209.7L1293.4 210.1L1293.3 210.6L1293.1 211.0L1293.1 211.5L1293.0 212.0L1293.0 1478.5L1291.0 1481.3L1290.6 1482.1L1289.0 1490.0L1286.0 1493.3L1285.6 1493.3L1282.3 1486.7L1280.8 1480.0L1279.7 1478.6L1276.5 1476.6L1274.0 1468.3L1271.0 1462.5L1269.7 1461.5L1267.7 1461.0L1266.6 1461.1L1263.2 1462.3L1260.5 1456.6L1258.9 1455.4L1257.3 1454.9L1256.3 1455.0L1255.3 1455.4L1254.1 1456.1L1253.2 1457.1L1249.0 1470.8L1245.7 1473.5L1244.9 1474.6L1244.0 1481.7L1239.1 1493.2L1236.8 1500.0L1236.4 1500.3L1236.1 1500.2L1234.7 1498.2L1232.1 1495.9L1231.2 1495.4L1230.2 1495.1L1229.2 1495.1L1226.7 1495.8L1222.8 1498.1L1222.3 1498.0L1220.6 1489.0L1218.3 1480.6L1217.8 1479.6L1215.9 1477.8L1215.0 1477.2L1213.7 1477.0L1211.7 1477.3L1210.5 1477.9L1207.1 1482.6L1206.5 1483.9L1205.9 1489.0L1202.9 1489.4L1200.2 1490.9L1199.2 1491.8L1198.7 1492.7L1197.3 1497.9L1192.5 1498.3L1190.7 1492.1L1189.9 1491.0L1187.4 1488.9L1182.3 1487.5L1177.9 1487.5L1172.2 1489.1L1167.4 1486.7L1165.4 1482.9L1164.4 1481.9L1163.5 1481.4L1160.7 1480.8L1160.0 1476.7L1159.6 1475.8L1155.9 1472.3L1154.6 1471.9L1151.0 1471.4L1150.0 1471.7L1146.9 1473.1L1146.5 1473.1L1143.2 1460.9L1142.1 1459.6L1140.8 1458.8L1139.5 1458.4L1137.6 1458.7L1134.9 1460.9L1130.7 1468.2L1128.2 1467.5L1125.5 1465.0L1123.5 1464.6L1121.8 1465.0L1120.6 1465.8L1118.4 1469.5L1118.1 1469.7L1115.6 1466.8L1110.7 1465.0L1105.6 1460.9L1100.7 1459.2L1097.4 1457.1L1096.1 1456.8L1095.1 1456.9L1093.3 1457.6L1092.3 1458.4L1089.8 1463.3L1085.7 1463.2L1083.5 1464.3L1082.6 1465.0L1081.9 1466.3L1079.0 1475.8L1077.2 1477.7L1076.7 1477.8L1076.4 1477.4L1074.9 1463.0L1074.5 1462.1L1073.2 1460.0L1072.4 1459.3L1071.5 1458.8L1065.7 1458.7L1060.7 1456.7L1058.7 1449.6L1058.1 1448.3L1056.7 1447.3L1054.0 1446.6L1052.2 1441.9L1051.6 1441.1L1050.1 1440.2L1047.7 1439.9L1045.7 1436.8L1043.9 1435.2L1042.6 1434.7L1041.3 1434.8L1040.0 1435.3L1038.5 1436.7L1037.9 1438.0L1035.7 1447.4L1031.7 1450.8L1029.3 1455.8L1028.7 1455.6L1027.3 1449.9L1026.0 1446.3L1024.6 1444.9L1022.3 1444.5L1021.3 1444.7L1020.4 1445.3L1015.9 1449.5L1015.2 1450.7L1014.0 1455.0L1010.0 1458.3L1000.3 1459.9L999.9 1459.7L998.3 1453.0L997.3 1451.9L994.2 1449.9L992.6 1433.8L992.4 1432.8L991.8 1431.9L989.6 1429.8L987.7 1429.1L986.7 1429.2L984.9 1429.8L983.5 1430.9L979.3 1436.5L976.8 1443.6L976.3 1443.6L975.3 1442.2L974.5 1441.6L970.4 1440.3L969.0 1440.5L966.5 1441.8L965.2 1442.9L964.6 1444.1L963.3 1450.0L960.3 1456.8L958.6 1471.3L958.2 1471.7L957.8 1471.3L955.0 1461.8L952.5 1448.7L949.1 1443.0L946.7 1441.2L945.3 1440.8L943.6 1441.0L942.1 1442.0L941.2 1443.7L940.1 1451.7L939.6 1452.0L937.3 1450.0L932.5 1448.3L931.4 1439.0L930.5 1437.7L928.5 1435.9L926.9 1435.3L924.3 1435.7L923.0 1436.4L921.3 1438.5L920.8 1438.5L919.1 1430.2L917.9 1428.8L916.6 1428.1L915.3 1427.7L913.4 1428.1L911.8 1429.5L910.0 1435.0L907.6 1439.5L907.2 1439.3L905.6 1436.7L903.3 1435.5L901.7 1435.4L898.9 1436.5L896.3 1438.9L894.6 1436.5L893.8 1435.8L891.2 1434.6L889.9 1434.5L888.6 1434.9L885.3 1436.7L884.6 1437.4L882.9 1440.9L882.5 1441.1L882.2 1440.9L881.0 1438.0L880.1 1437.1L877.6 1435.7L876.5 1435.7L875.5 1435.9L872.6 1437.7L871.7 1438.8L869.5 1448.3L869.2 1448.7L868.8 1448.4L867.0 1442.0L866.2 1440.6L860.2 1435.8L856.7 1434.2L854.9 1434.2L851.6 1436.0L846.7 1442.5L842.2 1444.9L841.4 1446.1L840.1 1450.4L839.8 1450.7L835.0 1448.3L832.3 1442.2L831.1 1441.0L829.8 1440.5L827.1 1440.1L826.0 1440.4L823.3 1441.6L819.3 1438.5L817.7 1431.9L817.3 1431.0L816.6 1430.3L814.4 1428.7L813.1 1428.3L812.1 1428.4L810.2 1428.9L809.1 1429.6L806.6 1433.3L798.7 1434.6L795.5 1436.4L794.5 1437.5L790.0 1445.8L782.8 1446.3L779.6 1447.8L778.7 1448.8L778.2 1450.0L777.5 1458.2L773.3 1460.0L766.8 1457.6L762.1 1455.0L760.5 1448.3L760.0 1447.0L759.1 1446.1L758.2 1445.7L753.4 1444.9L751.8 1440.0L751.2 1439.1L750.3 1438.5L747.6 1437.2L746.5 1437.1L745.4 1437.3L741.8 1439.3L739.6 1442.6L739.1 1442.7L736.7 1435.0L735.4 1430.1L734.7 1428.9L733.2 1428.0L727.6 1426.7L724.1 1421.8L718.7 1419.3L715.6 1419.2L714.3 1419.4L713.1 1420.2L710.3 1423.1L709.8 1424.4L707.6 1436.3L707.3 1436.7L698.3 1438.2L695.8 1435.0L694.9 1428.9L694.4 1427.6L693.8 1426.9L691.9 1425.5L690.9 1425.1L689.9 1425.0L687.4 1425.7L686.1 1426.8L684.2 1430.0L681.6 1436.7L676.7 1439.1L672.0 1438.4L671.6 1438.1L670.2 1428.0L669.8 1426.8L669.2 1426.0L665.7 1423.2L661.0 1418.3L659.5 1417.4L657.9 1417.3L655.5 1418.0L654.5 1418.6L653.8 1419.4L651.2 1424.6L650.9 1424.9L647.7 1423.3L644.0 1420.7L642.8 1420.1L641.4 1420.0L638.7 1420.8L634.3 1423.3L629.6 1423.3L629.2 1423.2L626.0 1420.1L624.1 1419.3L623.1 1419.1L622.1 1419.3L620.9 1419.9L618.4 1423.3L611.3 1423.3L610.9 1422.9L609.6 1413.6L609.0 1412.4L607.5 1411.2L603.6 1410.0L602.9 1407.0L602.2 1405.7L599.7 1404.1L598.3 1403.7L597.2 1403.9L595.6 1404.5L594.3 1405.7L591.3 1414.8L590.8 1415.0L589.2 1411.5L586.2 1407.9L584.9 1407.4L579.4 1406.6L578.1 1399.8L577.6 1398.6L576.3 1397.4L573.5 1396.6L570.9 1390.1L569.3 1388.7L567.6 1388.2L566.3 1388.4L565.1 1389.1L564.1 1390.0L563.6 1390.8L562.5 1402.5L557.7 1404.1L555.6 1401.3L553.4 1399.6L551.8 1399.1L550.1 1399.4L548.1 1400.9L547.4 1402.4L544.3 1419.9L542.4 1422.6L541.9 1422.7L541.7 1422.3L540.1 1414.4L539.2 1413.4L535.2 1409.9L532.7 1396.9L531.3 1395.5L527.7 1394.1L525.9 1387.1L525.0 1386.1L521.8 1384.1L520.4 1374.9L519.5 1373.5L518.4 1372.8L517.5 1372.5L514.3 1372.5L510.0 1370.4L508.7 1370.1L507.3 1370.3L505.2 1371.4L504.5 1372.2L504.2 1373.2L502.7 1385.0L498.6 1392.4L489.4 1395.3L488.2 1395.9L487.2 1397.2L485.3 1403.0L484.8 1403.2L481.0 1401.5L479.4 1388.2L478.9 1387.0L476.0 1383.3L474.6 1366.5L473.8 1365.0L472.8 1364.1L471.5 1363.7L466.1 1363.6L464.7 1361.5L463.9 1360.7L457.1 1357.7L455.9 1357.6L451.8 1358.1L449.9 1358.9L447.3 1362.6L446.8 1363.9L444.4 1386.9L444.2 1387.2L443.9 1387.3L437.7 1384.9L434.3 1364.6L433.6 1363.4L428.0 1357.7L426.1 1357.2L416.3 1357.5L407.5 1359.1L407.2 1358.7L406.2 1353.8L405.8 1352.9L404.5 1351.7L402.2 1350.9L400.3 1351.3L399.5 1352.0L397.6 1354.2L392.8 1356.5L390.8 1353.2L385.2 1347.5L383.8 1343.6L383.3 1342.7L382.2 1341.9L376.8 1339.2L375.5 1338.8L374.2 1339.0L369.3 1341.7L361.1 1341.5L358.9 1314.2L354.3 1307.8L353.4 1306.9L352.1 1306.4L344.7 1305.1L344.3 1304.8L341.8 1276.7L339.7 1260.7L339.2 1259.5L335.3 1255.2L329.4 1250.0L325.2 1236.8L322.7 1223.2L321.2 1193.3L321.0 1192.3L320.0 1190.8L318.9 1190.2L317.5 1177.6L316.1 1141.8L314.7 1094.9L312.9 1026.9L310.1 834.9L308.1 642.0L307.2 534.0L307.2 533.9L306.4 469.9L306.4 469.9L305.8 449.9L305.1 418.9L304.2 367.0L304.2 322.0L304.2 321.8L302.0 256.8L301.8 256.8L301.8 210.6L301.8 210.6L301.7 210.6L299.1 207.9L299.0 207.9L299.0 207.8L299.0 207.8L299.0 207.7L298.9 207.7L298.9 207.6L298.9 207.5L298.9 207.5L298.9 195.4L298.9 195.4L298.9 195.4L298.1 194.6L298.1 194.6L298.1 194.5L298.0 194.5L298.0 194.4L298.0 194.4L298.0 194.3L298.0 194.3L298.0 194.2L298.0 153.7L298.0 153.7L298.0 153.7L297.0 151.3L297.0 151.3L297.0 151.3L295.1 149.9L295.1 149.9L295.1 149.9L290.9 149.9L290.9 149.9L290.8 149.9L289.0 151.3L289.0 151.3L289.0 151.3L288.0 153.7L288.0 153.7L288.0 153.7L288.0 165.8L288.0 165.8L288.0 165.9L288.0 165.9L288.0 166.0L287.9 166.1L287.9 166.1L287.9 166.2L287.8 166.2L287.1 167.0L287.1 167.0L287.1 167.0L287.1 174.2L287.1 174.2L287.0 174.3L287.0 174.4L287.0 174.4L287.0 174.5L287.0 174.5L286.9 174.6L286.9 174.6L286.8 174.7L286.8 174.7L286.7 174.7L285.2 175.5L285.2 175.5L285.2 175.5L285.2 228.3L285.2 228.4L285.2 228.4L285.1 228.5L285.1 228.5L285.1 228.6L285.1 228.6L285.0 228.7L285.0 228.7L284.9 228.8L284.0 229.5L284.0 229.5L284.0 229.5Z" fill="#0072bd"/>
<path d="M284.9 264.6L287.9 302.4L287.9 302.5L292.8 354.4L297.0 406.4L297.0 406.4L300.6 450.4L300.6 450.4L318.0 642.4L335.0 835.4L335.0 835.5L352.6 1028.1L352.6 1028.1L356.4 1067.5L356.4 1067.6L361.1 1103.6L361.1 1104.0L364.0 1118.5L363.6 1118.5L363.6 1118.5L363.6 1118.5L365.3 1128.0L365.3 1128.0L368.3 1142.2L368.3 1142.2L368.3 1142.3L372.2 1151.2L373.1 1154.4L373.3 1154.9L376.8 1163.2L377.8 1169.5L377.8 1169.5L377.8 1169.5L380.5 1171.9L385.1 1182.9L385.3 1183.3L385.5 1183.6L388.5 1188.5L391.4 1194.4L391.4 1194.4L394.4 1200.0L394.4 1200.1L394.4 1200.1L396.0 1200.1L398.5 1208.1L404.2 1214.0L411.0 1217.6L415.0 1229.5L415.7 1230.6L421.8 1236.7L425.1 1248.2L430.8 1257.9L436.0 1263.3L439.9 1265.9L440.9 1266.4L442.0 1266.5L446.8 1265.7L453.1 1260.3L453.6 1260.2L457.7 1265.0L462.4 1273.6L463.2 1274.4L464.7 1275.4L466.1 1275.9L467.5 1275.8L468.4 1275.4L471.0 1273.3L474.8 1272.6L475.2 1272.7L479.3 1280.7L483.5 1285.0L485.0 1292.2L485.7 1293.4L486.5 1294.1L488.2 1295.2L489.5 1295.5L490.5 1295.4L494.3 1294.3L496.3 1296.6L497.2 1297.2L498.2 1297.5L501.3 1297.5L502.3 1297.2L503.5 1296.4L505.3 1294.2L512.6 1295.8L521.0 1303.3L525.1 1307.3L531.0 1309.2L535.6 1315.2L537.0 1316.2L540.3 1317.2L541.3 1317.2L542.3 1316.9L546.1 1314.8L549.0 1310.4L549.4 1310.2L553.5 1313.3L558.5 1315.7L564.4 1315.0L571.0 1317.3L577.7 1315.9L582.6 1318.3L587.7 1323.3L591.6 1325.6L597.0 1326.6L604.5 1325.9L612.6 1329.2L617.8 1333.4L621.8 1336.1L623.0 1336.6L626.6 1336.6L627.9 1336.3L631.1 1333.2L634.4 1330.9L639.1 1333.2L644.0 1334.9L651.0 1335.9L655.9 1339.9L659.9 1341.6L661.0 1342.8L662.1 1343.4L663.1 1343.6L666.5 1343.3L671.7 1341.7L677.3 1344.1L681.3 1344.5L683.1 1344.0L686.7 1340.9L689.9 1339.2L693.9 1341.1L695.5 1341.3L699.2 1340.0L703.3 1337.0L708.2 1337.5L713.3 1338.7L717.4 1340.8L721.6 1347.3L725.0 1349.2L727.0 1349.2L735.0 1345.9L739.9 1346.2L740.9 1346.1L745.0 1343.4L754.2 1349.6L758.3 1350.8L763.4 1353.3L768.9 1353.8L774.1 1352.4L778.3 1349.2L782.4 1348.7L783.4 1348.4L787.6 1344.2L793.3 1343.7L799.9 1344.2L805.7 1344.2L811.0 1350.2L815.0 1353.7L820.0 1356.7L825.1 1361.5L831.6 1363.0L838.3 1364.2L843.6 1367.2L844.8 1367.6L851.5 1368.6L857.5 1366.3L862.4 1365.8L866.6 1365.8L871.0 1369.1L872.2 1369.6L876.8 1369.6L881.6 1368.4L884.3 1369.9L886.0 1370.2L887.6 1369.8L890.1 1368.2L893.3 1365.9L896.4 1366.4L897.4 1366.4L898.4 1366.0L901.8 1363.7L906.8 1364.7L911.5 1366.3L917.7 1369.6L923.2 1369.7L928.3 1368.4L937.4 1371.5L942.5 1371.4L949.9 1377.4L954.8 1379.4L956.2 1379.4L959.8 1378.3L964.2 1374.2L968.3 1372.5L973.2 1374.4L974.2 1374.4L978.3 1373.3L983.2 1373.0L988.1 1374.1L991.7 1377.3L996.7 1378.3L1001.2 1381.3L1002.6 1381.7L1013.2 1382.4L1014.4 1382.3L1018.1 1380.7L1021.3 1376.6L1021.6 1376.4L1025.7 1378.4L1030.8 1383.1L1035.2 1386.3L1036.2 1386.8L1038.6 1387.6L1040.0 1387.6L1040.9 1387.3L1044.1 1385.4L1048.0 1387.4L1051.6 1388.1L1052.9 1387.9L1055.7 1386.4L1058.5 1389.1L1060.1 1389.6L1065.0 1389.5L1068.8 1387.6L1072.3 1385.4L1075.8 1387.5L1078.8 1388.4L1080.1 1388.3L1089.0 1383.7L1094.1 1385.0L1099.0 1385.8L1104.6 1385.8L1110.6 1385.0L1114.4 1386.4L1120.7 1387.5L1127.3 1388.3L1133.4 1390.0L1138.8 1390.8L1144.0 1390.0L1148.2 1391.3L1153.1 1391.7L1157.4 1395.4L1167.0 1403.1L1172.2 1404.6L1175.2 1405.1L1177.2 1404.6L1180.7 1401.7L1185.5 1400.0L1189.0 1396.7L1194.0 1396.3L1198.8 1395.0L1204.0 1392.0L1209.7 1390.9L1214.2 1388.7L1219.0 1388.4L1223.9 1391.3L1229.2 1395.3L1238.3 1397.6L1240.2 1397.1L1242.9 1395.2L1246.5 1391.7L1254.5 1390.1L1255.0 1390.2L1258.1 1394.5L1259.0 1395.1L1261.8 1396.2L1263.5 1396.1L1270.8 1392.5L1274.8 1393.7L1279.2 1398.4L1283.7 1401.1L1286.3 1401.6L1287.9 1401.3L1292.3 1399.2L1296.6 1399.9L1297.0 1399.8L1297.1 1399.9L1297.6 1399.9L1298.1 1400.0L1298.6 1399.9L1299.1 1399.9L1299.5 1399.7L1300.0 1399.6L1300.4 1399.4L1300.9 1399.1L1301.2 1398.8L1301.6 1398.5L1301.9 1398.1L1302.2 1397.8L1302.5 1397.3L1302.7 1396.9L1302.8 1396.4L1303.0 1396.0L1303.0 1395.5L1303.0 1395.0L1303.0 313.6L1315.7 450.5L1315.7 450.5L1324.6 540.4L1332.8 642.4L1332.8 642.4L1349.7 835.4L1357.8 930.4L1357.8 930.5L1368.1 1027.5L1368.1 1027.6L1372.1 1062.6L1372.2 1063.0L1372.3 1063.5L1372.3 1063.6L1372.3 1064.0L1377.5 1096.6L1381.7 1116.8L1386.6 1133.8L1387.2 1134.7L1391.7 1140.1L1395.0 1156.7L1399.2 1165.9L1403.4 1176.7L1406.7 1181.7L1409.1 1193.2L1410.9 1198.7L1411.9 1199.7L1415.9 1201.7L1420.8 1207.5L1425.8 1211.6L1427.6 1218.3L1431.3 1222.1L1436.7 1225.0L1440.2 1228.7L1445.8 1230.9L1448.4 1238.4L1450.9 1248.6L1454.2 1256.7L1457.4 1261.2L1458.9 1262.0L1461.4 1262.2L1462.6 1261.7L1465.1 1260.1L1469.2 1262.5L1470.9 1263.1L1471.9 1263.2L1473.5 1262.7L1475.5 1261.1L1475.9 1261.0L1478.3 1264.2L1480.6 1268.7L1481.6 1269.5L1483.7 1270.4L1485.3 1270.4L1488.4 1269.2L1493.3 1269.6L1498.3 1269.2L1503.2 1269.7L1505.1 1275.1L1508.2 1279.7L1513.3 1283.3L1517.5 1285.0L1520.0 1290.5L1520.8 1291.2L1525.0 1293.4L1528.3 1296.6L1531.7 1304.2L1534.5 1307.9L1535.9 1308.9L1538.2 1309.2L1539.2 1308.9L1540.3 1308.0L1542.5 1305.0L1545.1 1299.9L1548.3 1295.1L1552.3 1291.0L1552.8 1290.9L1556.7 1291.7L1559.2 1296.6L1563.2 1299.8L1568.3 1300.9L1572.7 1304.1L1577.5 1305.0L1581.6 1308.3L1585.2 1313.4L1589.6 1315.6L1590.8 1315.8L1594.5 1315.8L1595.7 1315.3L1598.0 1313.6L1598.3 1313.6L1599.7 1316.8L1600.4 1317.7L1603.2 1319.7L1604.6 1320.1L1614.2 1318.3L1619.1 1319.2L1622.4 1320.8L1624.0 1321.1L1633.4 1318.4L1636.7 1320.8L1640.1 1324.9L1644.5 1327.3L1650.0 1328.3L1660.1 1326.7L1670.0 1330.8L1673.3 1335.6L1674.1 1336.2L1677.2 1337.7L1678.6 1337.6L1681.5 1336.7L1685.0 1333.4L1689.9 1333.0L1693.3 1335.0L1697.6 1339.9L1700.5 1341.4L1701.9 1341.8L1705.8 1340.9L1708.1 1342.1L1709.8 1342.2L1710.8 1341.8L1713.4 1340.0L1716.7 1338.1L1720.7 1339.9L1724.7 1340.8L1730.0 1340.0L1735.0 1341.3L1739.3 1340.9L1740.6 1340.5L1743.9 1338.8L1746.8 1335.9L1750.8 1337.5L1759.1 1344.0L1763.7 1345.2L1764.6 1345.2L1769.3 1344.2L1774.3 1344.7L1784.2 1346.5L1788.3 1345.2L1793.2 1342.0L1797.3 1342.5L1801.6 1344.7L1806.1 1345.7L1807.2 1345.5L1810.8 1344.1L1813.9 1343.4L1818.2 1347.5L1822.3 1350.0L1826.4 1354.5L1830.4 1356.2L1832.2 1356.2L1835.7 1354.7L1839.8 1354.2L1845.1 1355.4L1850.7 1355.8L1856.4 1355.3L1860.5 1354.7L1862.7 1358.1L1864.2 1359.1L1865.5 1359.4L1867.2 1359.1L1869.7 1357.5L1873.2 1352.5L1877.4 1351.3L1882.5 1350.4L1885.7 1350.9L1888.5 1355.7L1889.5 1356.6L1894.0 1358.0L1898.5 1360.9L1902.3 1361.6L1907.3 1360.8L1911.4 1360.8L1915.7 1365.0L1919.9 1367.4L1924.6 1367.4L1928.2 1365.9L1932.3 1369.2L1936.9 1371.7L1938.2 1371.9L1947.3 1370.9L1951.5 1372.5L1955.2 1375.0L1956.6 1375.4L1960.7 1375.8L1965.7 1375.3L1970.8 1375.8L1975.5 1375.0L1979.8 1373.0L1982.8 1374.2L1984.5 1374.3L1988.2 1372.5L1992.3 1371.7L1996.6 1374.2L2000.7 1376.3L2010.1 1376.9L2011.2 1376.7L2014.7 1375.1L2018.2 1373.0L2022.9 1374.1L2028.1 1374.7L2031.5 1378.3L2032.6 1379.1L2037.3 1380.0L2041.9 1382.3L2043.2 1382.5L2047.5 1382.4L2051.5 1381.4L2055.2 1382.3L2056.5 1382.3L2059.9 1381.5L2064.1 1378.4L2068.1 1380.0L2072.2 1381.9L2076.0 1382.4L2077.2 1382.0L2080.7 1380.0L2084.7 1378.4L2088.9 1377.5L2092.1 1380.6L2093.0 1381.1L2096.7 1382.5L2101.5 1383.0L2105.8 1385.9L2110.8 1387.5L2115.8 1388.6L2120.3 1388.3L2124.8 1386.3L2129.8 1385.8L2134.0 1387.5L2140.1 1388.7L2143.8 1388.6L2148.2 1386.3L2152.3 1385.9L2156.7 1388.0L2160.7 1388.6L2168.9 1386.7L2174.0 1386.3L2178.2 1385.2L2179.5 1384.4L2182.5 1380.8L2186.5 1380.3L2190.8 1381.6L2195.7 1380.9L2200.5 1382.4L2203.7 1382.5L2205.2 1382.1L2208.4 1380.0L2212.4 1380.0L2220.5 1382.9L2225.6 1382.5L2228.4 1384.3L2229.7 1384.7L2234.1 1384.5L2238.2 1382.5L2242.3 1383.7L2247.5 1384.2L2252.6 1385.4L2257.2 1385.8L2262.1 1385.8L2267.4 1384.2L2272.4 1384.2L2277.3 1384.7L2280.7 1386.7L2284.3 1391.0L2287.2 1392.5L2288.2 1392.7L2289.2 1392.6L2292.2 1391.7L2296.5 1390.0L2304.8 1391.8L2306.2 1391.8L2309.3 1390.8L2310.3 1389.8L2311.1 1388.3L2311.3 1387.3L2311.2 1386.2L2309.3 1382.3L2308.4 1381.3L2305.0 1379.3L2296.1 1377.1L2292.6 1377.6L2288.9 1379.9L2285.7 1378.0L2281.4 1374.1L2277.1 1372.1L2259.1 1372.0L2253.8 1371.3L2249.0 1371.3L2243.8 1370.0L2237.3 1370.3L2230.7 1370.3L2226.0 1368.5L2225.0 1368.5L2221.5 1369.2L2212.4 1367.5L2208.2 1366.4L2204.0 1367.0L2199.8 1365.9L2196.1 1366.3L2190.7 1368.3L2186.6 1369.1L2183.4 1367.9L2181.7 1367.9L2177.2 1369.8L2173.2 1373.3L2169.0 1374.2L2164.2 1373.1L2159.0 1374.1L2150.8 1372.2L2149.9 1372.4L2145.6 1374.2L2138.0 1374.2L2133.3 1373.3L2127.8 1372.0L2123.0 1372.6L2114.1 1375.8L2109.7 1372.4L2106.6 1370.5L2101.4 1370.0L2097.4 1369.2L2093.8 1364.1L2091.0 1362.6L2089.6 1362.2L2085.9 1363.0L2082.3 1365.8L2078.3 1367.4L2074.0 1369.6L2066.9 1365.0L2066.0 1364.6L2063.7 1364.3L2062.4 1364.7L2059.0 1366.7L2050.0 1367.5L2046.4 1369.6L2039.0 1367.5L2035.8 1365.1L2033.0 1362.4L2032.1 1361.8L2026.5 1361.3L2022.8 1359.9L2021.8 1359.7L2018.0 1360.0L2013.8 1360.8L2012.7 1361.2L2009.8 1363.6L2006.3 1363.3L2001.7 1363.3L1993.4 1358.6L1992.5 1358.3L1989.5 1358.3L1988.6 1358.6L1984.8 1360.3L1981.3 1359.7L1977.7 1360.0L1969.0 1362.5L1964.0 1362.5L1959.0 1363.6L1954.7 1361.6L1949.7 1358.6L1946.2 1357.0L1944.8 1356.9L1942.2 1357.5L1938.2 1358.0L1933.8 1355.2L1929.6 1353.4L1925.9 1353.7L1920.7 1354.6L1917.3 1350.8L1914.7 1348.9L1913.8 1348.5L1909.0 1348.7L1904.6 1347.1L1900.7 1347.5L1894.9 1347.0L1891.6 1341.9L1888.4 1337.9L1887.3 1337.1L1886.0 1336.7L1882.4 1336.8L1878.1 1339.2L1873.7 1339.2L1872.7 1339.4L1869.0 1341.4L1864.8 1344.8L1861.4 1341.6L1860.6 1341.1L1859.6 1340.9L1858.1 1340.9L1857.1 1341.1L1853.2 1343.6L1849.2 1343.7L1844.0 1341.4L1838.2 1340.0L1833.4 1339.7L1828.2 1340.0L1822.3 1336.3L1817.5 1332.1L1813.0 1330.4L1808.4 1330.9L1804.0 1333.6L1800.4 1330.7L1797.4 1328.9L1796.1 1328.6L1790.7 1329.7L1786.5 1332.5L1784.1 1333.3L1776.8 1330.9L1770.7 1330.4L1769.7 1330.5L1765.7 1331.7L1760.9 1332.5L1757.3 1328.3L1753.3 1326.7L1746.8 1322.7L1745.5 1322.3L1743.8 1322.5L1741.0 1324.1L1738.3 1328.3L1734.2 1329.1L1729.6 1327.0L1728.3 1326.9L1725.0 1327.5L1720.0 1326.3L1715.8 1324.8L1711.0 1325.8L1706.7 1328.3L1701.8 1327.5L1694.4 1320.6L1693.6 1320.1L1692.6 1319.8L1688.5 1320.0L1684.1 1322.5L1680.0 1323.3L1677.6 1321.7L1673.6 1318.6L1672.4 1318.2L1666.6 1317.5L1658.2 1312.5L1653.8 1312.1L1647.5 1313.3L1643.5 1311.7L1640.0 1307.5L1635.8 1305.2L1630.1 1305.3L1625.0 1305.8L1620.0 1304.2L1615.2 1303.4L1605.2 1304.9L1603.0 1300.7L1601.0 1299.1L1599.4 1298.6L1595.7 1299.3L1592.0 1302.3L1591.5 1302.4L1588.3 1300.0L1584.5 1295.5L1583.7 1294.7L1580.0 1292.6L1575.0 1291.6L1570.8 1288.4L1565.9 1286.7L1564.4 1282.3L1563.6 1281.2L1559.8 1278.3L1555.0 1276.4L1550.7 1276.5L1546.2 1279.0L1545.4 1279.8L1541.6 1285.1L1537.1 1290.3L1536.7 1290.5L1534.1 1285.0L1530.4 1281.2L1525.0 1278.3L1522.5 1274.2L1518.7 1270.4L1517.9 1269.9L1513.4 1268.3L1510.2 1258.9L1509.6 1258.0L1507.2 1255.9L1505.5 1255.5L1501.7 1255.8L1496.8 1255.4L1491.6 1256.3L1486.0 1255.8L1483.1 1252.3L1480.1 1249.5L1478.9 1248.8L1473.5 1248.4L1469.2 1249.1L1465.0 1247.5L1460.1 1246.3L1455.9 1228.5L1452.5 1222.5L1450.8 1217.8L1448.9 1216.2L1447.6 1215.7L1446.3 1215.8L1443.6 1216.6L1443.2 1216.5L1440.7 1212.4L1435.9 1208.0L1434.1 1203.4L1430.3 1198.7L1425.0 1195.0L1423.2 1191.6L1420.3 1188.4L1416.7 1186.6L1414.1 1173.2L1410.1 1165.2L1405.8 1158.3L1403.4 1145.2L1399.4 1132.5L1398.8 1131.3L1394.2 1126.6L1390.0 1113.5L1383.3 1073.4L1381.9 1062.5L1381.9 1062.4L1381.9 1061.9L1381.9 1061.4L1377.9 1026.5L1367.6 929.5L1359.5 834.6L1359.5 834.6L1342.6 641.6L1334.4 539.6L1334.4 539.5L1325.5 449.5L1307.7 256.5L1307.7 256.5L1303.0 207.4L1303.0 206.9L1302.8 206.5L1302.7 206.0L1302.5 205.6L1302.2 205.2L1301.9 204.8L1301.6 204.4L1301.2 204.1L1300.9 203.8L1300.4 203.5L1300.0 203.3L1299.5 203.2L1299.1 203.0L1298.6 203.0L1298.1 203.0L1297.6 203.0L1297.1 203.0L1296.7 203.2L1296.2 203.3L1295.8 203.5L1295.4 203.8L1295.0 204.1L1294.6 204.4L1294.3 204.8L1294.0 205.1L1293.7 205.6L1293.5 206.0L1293.4 206.5L1293.2 206.9L1293.2 207.4L1293.1 207.9L1293.1 1382.7L1293.1 1384.9L1289.7 1385.7L1288.8 1386.1L1284.9 1389.8L1280.7 1385.9L1277.1 1381.5L1276.0 1380.6L1272.3 1379.3L1268.2 1379.9L1266.9 1380.4L1263.2 1383.1L1260.7 1379.2L1258.0 1376.1L1256.9 1375.4L1255.3 1375.1L1254.3 1375.3L1253.4 1375.7L1250.5 1378.4L1246.5 1380.0L1241.6 1381.0L1237.2 1385.0L1233.9 1384.1L1223.5 1377.8L1218.2 1376.4L1211.7 1377.0L1205.7 1379.2L1200.9 1380.0L1197.3 1382.5L1191.5 1383.0L1187.2 1384.2L1183.0 1386.0L1177.2 1389.2L1173.2 1390.8L1169.8 1388.5L1165.5 1387.9L1160.7 1384.2L1158.0 1379.9L1155.8 1377.9L1154.9 1377.4L1153.3 1377.2L1144.9 1378.3L1139.0 1378.7L1133.3 1376.7L1128.5 1375.6L1122.4 1375.3L1118.2 1372.9L1113.2 1371.2L1107.5 1371.3L1096.6 1372.5L1092.5 1369.8L1088.4 1369.3L1087.3 1369.5L1083.9 1371.0L1079.0 1376.2L1075.7 1375.0L1072.2 1372.6L1070.6 1372.3L1067.4 1373.1L1063.0 1376.3L1054.0 1375.3L1048.0 1373.4L1039.0 1373.3L1034.1 1372.0L1024.9 1363.0L1024.0 1362.4L1023.0 1362.2L1020.8 1362.4L1019.5 1363.0L1015.7 1367.0L1013.9 1368.3L1007.5 1367.5L1002.5 1365.9L997.5 1366.3L994.2 1364.2L990.8 1361.0L989.3 1360.4L983.3 1360.4L978.3 1361.3L973.5 1361.3L969.0 1359.5L967.6 1359.3L963.9 1360.2L958.3 1364.2L954.3 1366.5L954.0 1366.2L951.8 1361.4L949.8 1358.5L948.3 1357.6L945.0 1357.5L940.0 1358.3L935.0 1356.2L930.4 1355.4L925.0 1356.7L920.1 1356.3L915.7 1353.7L910.0 1353.0L904.7 1351.2L900.0 1351.2L894.3 1352.5L889.5 1353.0L885.0 1355.3L879.3 1355.8L867.8 1352.2L862.4 1352.0L850.8 1355.0L847.4 1352.9L846.5 1352.7L841.7 1353.0L838.2 1351.7L830.8 1350.8L826.7 1348.3L821.7 1342.7L815.8 1340.0L810.0 1333.7L806.4 1331.3L805.1 1330.9L796.7 1330.8L789.8 1329.4L785.6 1329.7L784.3 1330.4L781.6 1333.1L778.4 1335.8L774.8 1335.5L773.2 1335.9L772.4 1336.4L769.0 1339.9L765.2 1338.7L759.2 1338.7L754.2 1337.5L749.9 1331.7L746.9 1329.8L745.6 1329.4L744.6 1329.4L740.9 1330.1L736.7 1333.6L733.8 1332.7L732.5 1332.6L730.0 1333.1L726.6 1334.9L718.6 1325.9L717.1 1325.4L712.5 1325.3L707.2 1323.3L700.3 1323.4L699.4 1323.7L695.8 1325.8L692.5 1325.5L684.8 1326.6L683.7 1327.0L680.0 1329.9L677.3 1328.2L674.4 1326.9L672.8 1326.5L668.5 1327.5L664.2 1329.9L660.7 1325.7L659.5 1324.9L654.2 1323.4L647.7 1323.3L644.8 1320.5L644.0 1320.0L637.1 1318.4L631.1 1319.3L625.5 1323.9L625.0 1324.0L621.9 1321.7L620.2 1318.9L618.8 1317.8L617.7 1317.5L612.7 1317.5L608.5 1314.7L607.1 1314.2L594.4 1313.3L591.7 1310.8L586.0 1305.9L578.4 1303.5L576.9 1303.4L571.0 1304.1L567.3 1302.5L557.8 1301.7L554.8 1298.9L552.1 1297.3L550.8 1297.0L549.8 1297.1L546.2 1298.3L541.0 1301.6L536.1 1300.8L532.9 1295.8L531.9 1294.8L530.2 1294.2L525.2 1294.1L520.7 1289.0L512.7 1285.0L505.6 1281.1L504.4 1280.8L491.1 1279.9L489.5 1274.1L489.0 1273.1L483.4 1268.3L477.8 1262.7L469.3 1258.4L462.7 1256.6L460.2 1248.8L459.5 1247.9L457.2 1246.2L455.7 1245.8L451.9 1245.9L450.9 1246.1L445.1 1250.8L437.7 1249.2L432.7 1240.1L429.4 1231.9L425.4 1224.6L421.0 1220.0L419.4 1211.8L417.3 1207.8L416.6 1207.1L415.6 1206.6L410.1 1205.7L406.1 1200.1L408.0 1200.1L408.0 1200.1L408.0 1200.0L404.3 1195.0L403.3 1192.1L402.3 1190.8L401.6 1190.5L395.7 1180.3L395.6 1180.2L395.6 1180.1L395.5 1179.9L393.8 1170.7L393.8 1170.7L393.8 1170.6L390.4 1166.1L390.3 1166.1L390.3 1166.0L390.2 1165.9L390.2 1165.8L390.2 1165.7L389.0 1160.0L389.0 1160.0L389.0 1160.0L386.4 1157.9L386.3 1157.8L386.2 1157.7L386.2 1157.6L386.1 1157.5L386.1 1157.4L386.0 1157.3L386.0 1157.2L384.9 1151.7L384.9 1151.7L384.9 1151.7L381.8 1148.6L379.4 1140.6L378.4 1136.3L378.4 1136.3L377.7 1134.7L376.3 1129.8L374.6 1121.3L374.2 1118.5L374.2 1118.5L374.2 1118.5L374.1 1118.5L370.9 1102.2L366.2 1066.4L362.4 1027.1L344.8 834.6L327.8 641.6L327.8 641.6L310.4 449.6L306.8 405.6L302.6 353.6L302.6 353.5L297.7 301.6L294.7 263.6L294.7 263.3L294.1 259.5L294.0 256.8L284.2 257.2L284.3 260.2L284.3 260.7Z" fill="#d95319"/>
</g>
<text class="t" transform="translate(287.7 1691.9) scale(1.000 1.030)" text-anchor="middle">0</text>
<text class="t" transform="translate(575.7 1691.9) scale(1.000 1.030)" text-anchor="middle">2</text>
<text class="t" transform="translate(864.7 1691.9) scale(1.000 1.030)" text-anchor="middle">4</text>
<text class="t" transform="translate(1152.7 1691.9) scale(1.000 1.030)" text-anchor="middle">6</text>
<text class="t" transform="translate(1440.7 1691.9) scale(1.000 1.030)" text-anchor="middle">8</text>
<text class="t" transform="translate(1730.8 1691.9) scale(1.000 1.030)" text-anchor="middle">10</text>
<text class="t" transform="translate(2019.8 1691.9) scale(1.000 1.030)" text-anchor="middle">12</text>
<text class="t" transform="translate(2307.8 1691.9) scale(1.000 1.030)" text-anchor="middle">14</text>
<text class="t" transform="translate(261.5 89.4) scale(1.000 1.030)" text-anchor="end">10</text>
<text class="t" transform="translate(261.5 281.4) scale(1.000 1.030)" text-anchor="end">0</text>
<text class="t" transform="translate(261.5 474.4) scale(1.000 1.030)" text-anchor="end">-10</text>
<text class="t" transform="translate(261.5 666.4) scale(1.000 1.030)" text-anchor="end">-20</text>
<text class="t" transform="translate(261.5 859.4) scale(1.000 1.030)" text-anchor="end">-30</text>
<text class="t" transform="translate(261.5 1051.4) scale(1.000 1.030)" text-anchor="end">-40</text>
<text class="t" transform="translate(261.5 1244.4) scale(1.000 1.030)" text-anchor="end">-50</text>
<text class="t" transform="translate(261.5 1436.4) scale(1.000 1.030)" text-anchor="end">-60</text>
<text class="t" transform="translate(261.5 1629.4) scale(1.000 1.030)" text-anchor="end">-70</text>
<text class="t" transform="translate(2165.6 1797.5) scale(1.000 1.000)" text-anchor="start" style="font-size:65px">×</text>
<text class="t" transform="translate(2210.2 1790.0) scale(1.000 1.030)" text-anchor="start">10</text>
<text class="t" transform="translate(2279.8 1763.2) scale(1.000 1.035)" text-anchor="start" style="font-size:48px">4</text>
<text class="xl" transform="translate(1296.8 1781.3) scale(1.005 1.050)" text-anchor="middle">Iterations</text>
<g transform="translate(112.9 1045.3) rotate(-90)" class="yl"><text x="-2" y="0">NM</text><text class="brk" transform="translate(113.6 27.8) scale(0.68 1)">[</text><text class="bf" transform="translate(142.8 0) scale(1.15 1)">f</text><text x="175.5" y="0">,</text><text class="bf" transform="translate(203.3 0) scale(1.15 1)">f</text><text class="hat" transform="translate(189.2 -32.8) scale(1.317 1)">^</text><text class="brk" transform="translate(222.7 27.8) scale(0.68 1)">]</text> <text class="par" transform="translate(289.8 0) scale(0.85 1)">(</text><text x="312.6 348.6" y="0">dB</text><text class="par" transform="translate(398.4 0) scale(0.85 1)">)</text></g>

<rect x="1614" y="156" width="547" height="164" fill="#fff" stroke="#262626" stroke-width="4"/>
<rect x="1616" y="156" width="1" height="164" fill="#262626"/>
<path d="M1632 201H1815" stroke="#0072bd" stroke-width="10.0"/>
<path d="M1632 275H1815" stroke="#d95319" stroke-width="10.0"/>
<text class="leg" transform="translate(1829.0 224.2) scale(1.004 1.045)" text-anchor="start">SKF-BF</text>
<text class="leg" transform="translate(1829.0 298.2) scale(1.004 1.045)" text-anchor="start">Regular SKF</text>
</svg></body></html>
